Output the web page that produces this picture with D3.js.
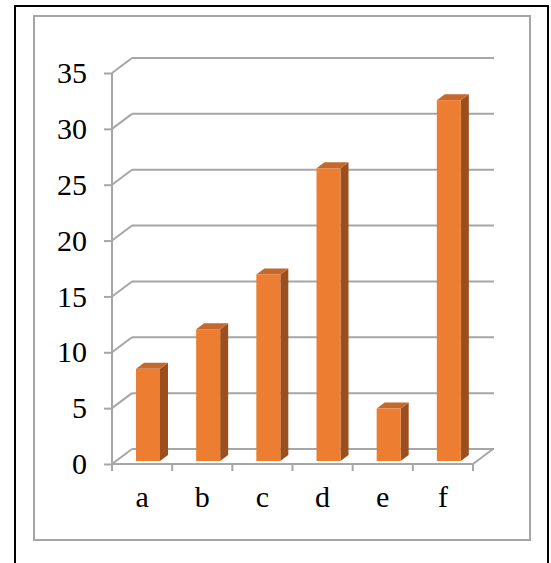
<!DOCTYPE html>
<html>
<head>
<meta charset="utf-8">
<script src="https://cdn.jsdelivr.net/npm/d3@7"></script>
<style>
  html, body { margin: 0; padding: 0; background: #fff; }
  svg { display: block; }
</style>
</head>
<body>
<svg id="chart" width="551" height="563"></svg>
<script>
// Category labels and their values
const categories = ["a", "b", "c", "d", "e", "f"];
const values = [8.25, 11.8, 16.7, 26.2, 4.7, 32.3];
const yTicks = [0, 5, 10, 15, 20, 25, 30, 35];

const svg = d3.select("#chart");

// Outer frame and inner chart area border
svg.append("rect").attr("x", 15).attr("y", 6).attr("width", 533).attr("height", 570)
  .attr("fill", "none").attr("stroke", "#000").attr("stroke-width", 2);
svg.append("rect").attr("x", 34).attr("y", 16).attr("width", 496).attr("height", 524)
  .attr("fill", "none").attr("stroke", "#a6a6a6").attr("stroke-width", 2);

// Front plane scales; the back wall sits at an offset (depth) up and to the right
const x = d3.scaleBand().domain(categories).range([112, 473]).paddingInner(0).paddingOuter(0);
const y = d3.scaleLinear().domain([0, 35]).range([464, 73]);
const depthX = 20, depthY = -15;

const grid = svg.append("g").attr("stroke", "#a6a6a6").attr("stroke-width", 2).attr("fill", "none");

// Back-wall gridlines plus the diagonal on the side wall
yTicks.forEach(v => {
  grid.append("line")
    .attr("x1", x.range()[0] + depthX).attr("x2", x.range()[1] + depthX + 1)
    .attr("y1", y(v) + depthY).attr("y2", y(v) + depthY);
  grid.append("line")
    .attr("x1", x.range()[0]).attr("y1", y(v))
    .attr("x2", x.range()[0] + depthX).attr("y2", y(v) + depthY);
});
// Right edge of the floor
grid.append("line")
  .attr("x1", x.range()[1]).attr("y1", y(0))
  .attr("x2", x.range()[1] + depthX).attr("y2", y(0) + depthY);

// Value axis
const yAxis = d3.axisLeft(y).tickValues(yTicks).tickSize(8).tickPadding(17);
const yg = svg.append("g").attr("transform", `translate(${x.range()[0]},0)`).call(yAxis);
// Category axis
const xAxis = d3.axisBottom(x).tickSize(0).tickPadding(22);
const xg = svg.append("g").attr("transform", `translate(0,${y(0)})`).call(xAxis);
// Boundary ticks between categories
const bounds = categories.map(c => x(c)).concat([x.range()[1]]);
xg.selectAll("line.bound").data(bounds).enter().append("line")
  .attr("class", "bound")
  .attr("x1", d => d).attr("x2", d => d).attr("y1", 0).attr("y2", 7);

[yg, xg].forEach(g => {
  g.select(".domain").attr("stroke", "#a6a6a6").attr("stroke-width", 2);
  g.selectAll("line").attr("stroke", "#a6a6a6").attr("stroke-width", 2);
  g.selectAll("text")
    .attr("fill", "#000")
    .style("font-family", "'Liberation Serif', 'Times New Roman', serif")
    .style("font-size", "30px");
});
yg.select(".domain").attr("d", `M0,${y(35)}V${y(0)}`);
xg.select(".domain").attr("d", `M0,0H${x.range()[1] - x.range()[0]}`).attr("transform", `translate(${x.range()[0]},0)`);

// 3D bars: front face, right side and top
const zFront = 0.2, zBack = 0.6;
const barW = 24, barOffset = 20;
const bars = svg.append("g");
categories.forEach((c, i) => {
  const v = values[i];
  const fx = x(c) + barOffset + depthX * zFront;
  const fy0 = y(0) + depthY * zFront;
  const fy1 = y(v) + depthY * zFront;
  const ddx = depthX * (zBack - zFront), ddy = depthY * (zBack - zFront);
  // side
  bars.append("path")
    .attr("d", `M${fx + barW},${fy1}L${fx + barW + ddx},${fy1 + ddy}L${fx + barW + ddx},${fy0 + ddy}L${fx + barW},${fy0}Z`)
    .attr("fill", "#9c4f1e");
  // top
  bars.append("path")
    .attr("d", `M${fx},${fy1}L${fx + ddx},${fy1 + ddy}L${fx + barW + ddx},${fy1 + ddy}L${fx + barW},${fy1}Z`)
    .attr("fill", "#c4682c");
  // front
  bars.append("rect")
    .attr("x", fx).attr("y", fy1).attr("width", barW).attr("height", fy0 - fy1)
    .attr("fill", "#ed7d31");
});
</script>
</body>
</html>
